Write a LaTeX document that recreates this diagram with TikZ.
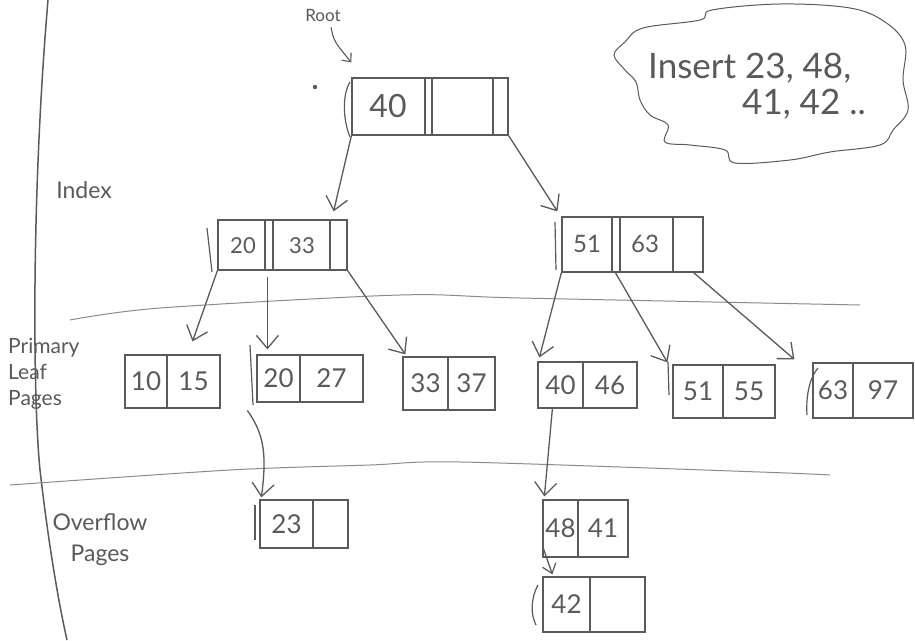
\documentclass[tikz,border=0pt]{standalone}
\usepackage{fontspec}
\setmainfont{Lato}
\usetikzlibrary{arrows.meta,calc}
\definecolor{ink}{HTML}{5A5A5A}
\tikzset{
  box/.style={draw=ink, line width=1.2pt, inner sep=0pt, rectangle},
  inkline/.style={draw=ink, line width=1.2pt},
  guide/.style={draw=ink!70, line width=1pt},
  ptr/.style={draw=ink, line width=1.3pt, -{Straight Barb[length=13pt,width=22pt,line width=1.3pt]}},
  num/.style={text=ink, inner sep=0pt, font=\fontsize{26}{30}\selectfont},
  lbl/.style={text=ink, inner sep=0pt, font=\fontsize{21}{26}\selectfont},
}
% name, x1, y1, x2, y2, divider, text1, text2
\newcommand\pagebox[8]{%
  \node[box, minimum width={#4pt-#2pt}, minimum height={#5pt-#3pt}] (#1) at ({(#2+#4)/2},{(#3+#5)/2}) {};
  \draw[inkline] (#6,#3) -- (#6,#5);
  \node[num] (#1a) at ({(#2+#6)/2},{(#3+#5)/2}) {#7};
  \node[num] (#1b) at ({(#6+#4)/2},{(#3+#5)/2}) {#8};
}
\begin{document}
\begin{tikzpicture}[x=1pt,y=-1pt]
\useasboundingbox (0,0) rectangle (915,640);
\fill[white] (0,0) rectangle (915,640);

% guide lines
\draw[draw=ink, line width=1.5pt] (48,0) .. controls (31,200) and (33,400) .. (40,470) .. controls (48,540) and (58,600) .. (67,640);
\draw[guide] plot[smooth] coordinates {(70,320) (160,308) (400,295) (520,298) (860,305)};
\draw[guide] plot[smooth] coordinates {(10,485) (230,470) (370,465) (460,462) (760,472) (830,475)};

% labels
\node[lbl, font=\fontsize{23}{28}\selectfont] (idxlbl) at (84,190) {Index};
\node[lbl, anchor=north west, align=left] (leaflbl) at (8,338) {Primary\\Leaf\\Pages};
\node[lbl, align=center, font=\fontsize{23}{31}\selectfont] (ovlbl) at (100,540) {Overflow\\Pages};

% cloud
\draw[inkline, line width=1pt] plot[smooth cycle, tension=0.6] coordinates {
 (643,28) (700,20) (712,10) (780,4) (850,8) (885,22) (905,45) (903,80) (908,110)
 (893,130) (880,145) (830,152) (790,160) (735,163) (725,150) (690,145) (665,142)
 (668,125) (650,115) (640,100) (636,82) (625,70) (614,55) (625,42)};
\node[num, anchor=west, font=\fontsize{35}{40}\selectfont] (ins1) at (648,68) {Insert 23, 48,};
\node[num, anchor=west, font=\fontsize{35}{40}\selectfont] (ins2) at (742,104) {41, 42 ..};

% root
\node[lbl, font=\fontsize{17}{20}\selectfont] (rootlbl) at (323,15) {Root};
\node[box, minimum width=156pt, minimum height=57pt] (root) at (430,106.5) {};
\draw[inkline] (425,78) -- (425,135);
\draw[inkline] (432,78) -- (432,135);
\draw[inkline] (493,78) -- (493,135);
\draw[inkline] (350,82) .. controls (342,95) and (343,120) .. (350,137);
\node[num, font=\fontsize{32}{36}\selectfont] (roota) at (388,106) {40};
\fill[ink] (315,87) circle (2.2pt);
\draw[draw=ink, line width=1.1pt, -{Straight Barb[length=7pt,width=12pt,line width=1.1pt]}]
  ([xshift=8pt,yshift=-6pt]rootlbl.south) .. controls +(3,14) .. ([yshift=15pt]root.north west);

% index left
\node[box, minimum width=129pt, minimum height=50pt] (il) at (282.5,245) {};
\draw[inkline] (265,220) -- (265,270);
\draw[inkline] (273,220) -- (273,270);
\draw[inkline] (330,220) -- (330,270);
\draw[inkline] (207,228) -- (212,272);
\node[num, font=\fontsize{22}{26}\selectfont] (ila) at (243,246) {20};
\node[num, font=\fontsize{22}{26}\selectfont] (ilb) at (302,246) {33};

% index right
\node[box, minimum width=141pt, minimum height=55pt] (ir) at (632.5,244.5) {};
\draw[inkline] (612,217) -- (612,272);
\draw[inkline] (620,217) -- (620,272);
\draw[inkline] (673,217) -- (673,272);
\draw[inkline] (555,222) -- (556,270);
\node[num, font=\fontsize{24}{28}\selectfont] (ira) at (587,244) {51};
\node[num, font=\fontsize{24}{28}\selectfont] (irb) at (645,244) {63};

% leaves
\pagebox{L1}{125}{355}{220}{408}{167}{10}{15}
\pagebox{L2}{257}{355}{363}{402}{300}{20}{27}
\draw[inkline] (250,345) -- (253,405);
\pagebox{L3}{403}{357}{495}{410}{448}{33}{37}
\pagebox{L4}{538}{362}{637}{408}{583}{40}{46}
\pagebox{L5}{673}{365}{775}{418}{723}{51}{55}
\draw[inkline] (668,362) -- (669,395);
\pagebox{L6}{813}{363}{913}{418}{853}{63}{97}
\draw[inkline] (818,368) .. controls (808,380) and (806,400) .. (807,415);

% overflow
\pagebox{O1}{260}{500}{348}{548}{313}{23}{}
\draw[inkline] (255,505) -- (255,540);
\pagebox{O2}{543}{500}{628}{557}{578}{48}{41}
\pagebox{O3}{543}{577}{645}{632}{590}{42}{}
\draw[inkline] (538,585) .. controls (530,600) and (531,615) .. (536,625);

% pointers
\draw[ptr] (root.south west) -- ([xshift=-14pt,yshift=8pt]il.north east);
\draw[ptr] (root.south east) -- ([xshift=-4pt,yshift=5pt]ir.north west);
\draw[ptr] (il.south west) -- ([xshift=20pt,yshift=13pt]L1.north);
\draw[ptr] ([xshift=50pt,yshift=-6pt]il.south west) -- ([xshift=11pt,yshift=5pt]L2.north west);
\draw[ptr] (il.south east) -- ([xshift=3pt,yshift=2pt]L3.north west);
\draw[ptr] (ir.south west) -- ([xshift=2pt,yshift=4pt]L4.north west);
\draw[ptr] ([xshift=54pt]ir.south west) -- ([xshift=-5pt,yshift=2pt]L5.north west);
\draw[ptr] ([xshift=-10pt]ir.south east) -- ([xshift=-18pt,yshift=3pt]L6.north west);
\draw[ptr] ([xshift=-9pt,yshift=-8pt]L2.south west) .. controls +(18,25) and +(5,-40) .. ([xshift=2pt,yshift=2pt]O1.north west);
\draw[ptr] ([xshift=15pt]L4.south west) -- ([xshift=2pt,yshift=3pt]O2.north west);
\draw[ptr, -{Straight Barb[length=9pt,width=14pt,line width=1.2pt]}] ([xshift=0pt,yshift=12pt]O2.south west) -- ([xshift=10pt,yshift=2pt]O3.north west);
\end{tikzpicture}
\end{document}
